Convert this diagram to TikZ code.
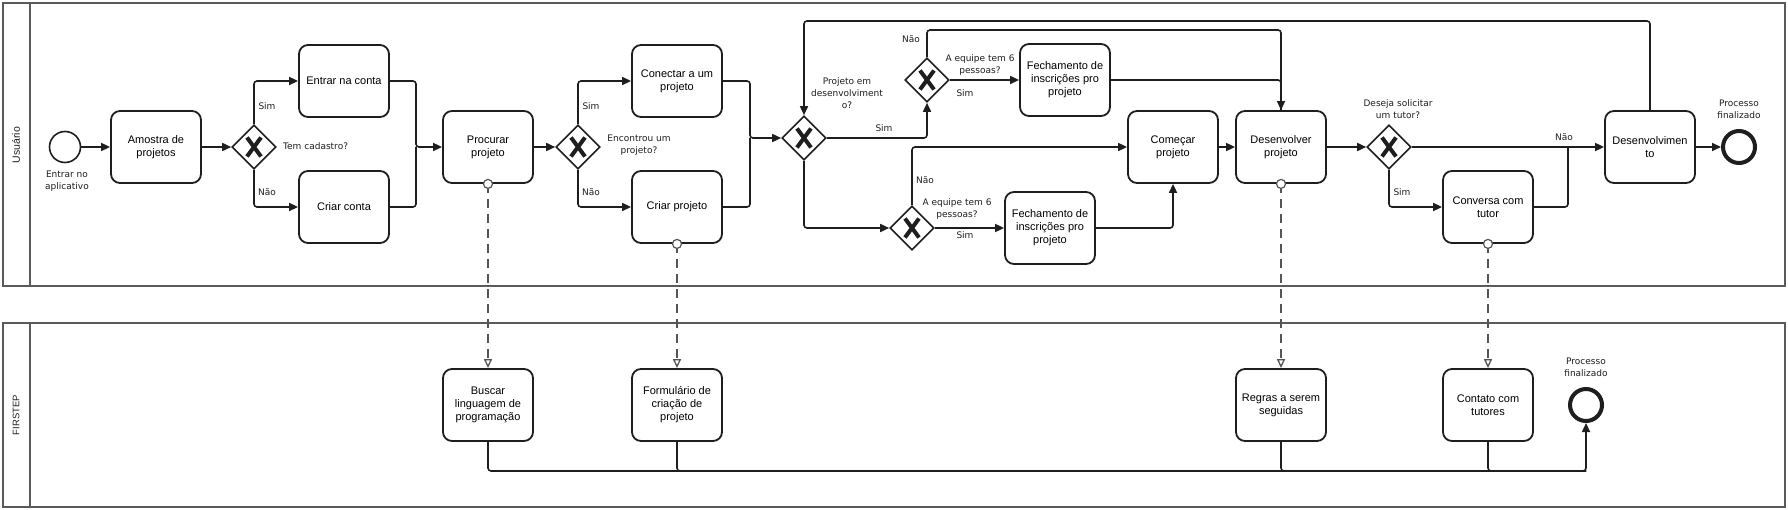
\documentclass[tikz,border=0pt]{standalone}
\usepackage{fontspec}
\setmainfont{Liberation Sans}
\newfontfamily\lblfont{DejaVu Sans}
\usetikzlibrary{arrows.meta,shapes.geometric,calc}
\definecolor{ink}{HTML}{1E1E1E}
\definecolor{poolc}{HTML}{5A5A5A}
\definecolor{msgc}{HTML}{555555}
\begin{document}
\begin{tikzpicture}[x=1pt,y=-1pt,
 task/.style={draw=ink, line width=1.8pt, rounded corners=9pt, minimum width=90pt, minimum height=72pt, align=center, font=\fontsize{11}{13}\selectfont, inner sep=1pt, fill=white},
 gw/.style={diamond, draw=ink, line width=1.6pt, minimum size=44pt, inner sep=0pt, fill=white,
   path picture={\draw[ink, line width=4pt] ($(path picture bounding box.center)+(-7,-9.5)$) -- ($(path picture bounding box.center)+(7,9.5)$) ($(path picture bounding box.center)+(-7,9.5)$) -- ($(path picture bounding box.center)+(7,-9.5)$);}},
 startev/.style={circle, draw=ink, line width=1.6pt, minimum size=31pt, inner sep=0pt, fill=white},
 endev/.style={circle, draw=ink, line width=4pt, minimum size=32pt, inner sep=0pt, fill=white},
 lbl/.style={font=\lblfont\fontsize{9}{11.8}\selectfont, inner sep=0pt, align=center, text=ink},
 lane/.style={rotate=90, font=\fontsize{10.5}{12}\selectfont, text=ink, inner sep=0pt},
 flow/.style={draw=ink, line width=1.6pt, rounded corners=3pt, -{Triangle[length=9pt,width=8pt]}},
 plain/.style={draw=ink, line width=1.6pt, rounded corners=3pt},
 msg/.style={draw=msgc, line width=1.3pt, dash pattern=on 9pt off 6pt, -{Triangle[open, length=9pt, width=8pt]}},
 mdot/.style={circle, draw=msgc, line width=1.2pt, fill=white, minimum size=9pt, inner sep=0pt},
 pool/.style={draw=poolc, line width=1.8pt}
]
\useasboundingbox (0,0) rectangle (1788,510);
% pools
\draw[pool] (3,3) rectangle (1785,286);
\draw[pool] (30,3) -- (30,286);
\draw[pool] (3,323) rectangle (1785,507);
\draw[pool] (30,323) -- (30,507);
\node[lane] (lane1) at (16,145) {Usuário};
\node[lane, font=\fontsize{9.5}{11}\selectfont] (lane2) at (16,415) {FIRSTEP};

% upper lane nodes
\node[startev] (start) at (65,147) {};
\node[task] (amostra) at (156,147) {Amostra de\\projetos};
\node[gw] (g1) at (254,147) {};
\node[task] (entrar) at (344,81) {Entrar na conta};
\node[task] (criarc) at (344,207) {Criar conta};
\node[task] (procurar) at (488,147) {Procurar\\projeto};
\node[gw] (g2) at (578,147) {};
\node[task] (conectar) at (677,81) {Conectar a um\\projeto};
\node[task] (criarp) at (677,207) {Criar projeto};
\node[gw] (g3) at (804,138) {};
\node[gw] (g4) at (927,80) {};
\node[task] (fech1) at (1065,80) {Fechamento de\\inscrições pro\\projeto};
\node[gw] (g5) at (912,228) {};
\node[task] (fech2) at (1050,228) {Fechamento de\\inscrições pro\\projeto};
\node[task] (comecar) at (1173,147) {Começar\\projeto};
\node[task] (desenv) at (1281,147) {Desenvolver\\projeto};
\node[gw] (g6) at (1389,147) {};
\node[task] (conversa) at (1488,207) {Conversa com\\tutor};
\node[task] (desvto) at (1650,147) {Desenvolvimen\\to};
\node[endev] (end1) at (1739,147) {};

% lower lane nodes
\node[task] (buscar) at (488,405) {Buscar\\linguagem de\\programação};
\node[task] (form) at (677,405) {Formulário de\\criação de\\projeto};
\node[task] (regras) at (1281,405) {Regras a serem\\seguidas};
\node[task] (contato) at (1488,405) {Contato com\\tutores};
\node[endev] (end2) at (1586,405) {};

% labels
\node[lbl] (t0) at (67,181) {Entrar no\\aplicativo};
\node[lbl, anchor=west] (t1) at (283,146) {Tem cadastro?};
\node[lbl] (t1s) at (267,106) {Sim};
\node[lbl] (t1n) at (267,192) {Não};
\node[lbl] (t2) at (639,145) {Encontrou um\\projeto?};
\node[lbl] (t2s) at (591,106) {Sim};
\node[lbl] (t2n) at (591,192) {Não};
\node[lbl] (t3) at (847,93) {Projeto em\\desenvolviment\\o?};
\node[lbl] (t3s) at (884,128) {Sim};
\node[lbl] (t4n) at (911,39) {Não};
\node[lbl] (t4) at (980,65) {A equipe tem 6\\pessoas?};
\node[lbl] (t4s) at (965,93) {Sim};
\node[lbl] (t5n) at (925,180) {Não};
\node[lbl] (t5) at (957,209) {A equipe tem 6\\pessoas?};
\node[lbl] (t5s) at (965,235) {Sim};
\node[lbl] (t6) at (1398,109) {Deseja solicitar\\um tutor?};
\node[lbl] (t6n) at (1564,137) {Não};
\node[lbl] (t6s) at (1402,192) {Sim};
\node[lbl] (te1) at (1739,109) {Processo\\finalizado};
\node[lbl] (te2) at (1586,367) {Processo\\finalizado};

% coordinates
\coordinate (m1) at (416,147);
\coordinate (m2) at (750,138);
\coordinate (top1) at (804,21);
\coordinate (top2) at (1281,30);
\coordinate (m6) at (1568,147);
\coordinate (bot) at (1586,471);

% sequence flows
\draw[flow] (start) -- (amostra);
\draw[flow] (amostra) -- (g1);
\draw[flow] (g1.north) |- (entrar.west);
\draw[flow] (g1.south) |- (criarc.west);
\draw[plain] (criarc.east) -| (m1);
\draw[flow] (entrar.east) -| (m1) -- (procurar.west);
\draw[flow] (procurar) -- (g2);
\draw[flow] (g2.north) |- (conectar.west);
\draw[flow] (g2.south) |- (criarp.west);
\draw[plain] (criarp.east) -| (m2);
\draw[flow] (conectar.east) -| (m2) -- (g3.west);
\draw[flow] (g3.east) -| (g4.south);
\draw[flow] (g3.south) |- (g5.west);
\draw[flow] (g4.east) -- (fech1.west);
\draw[plain] (fech1.east) -| (desenv.north);
\draw[flow] (g4.north) |- (top2) -- (desenv.north);
\draw[flow] (g5.north) |- (comecar.west);
\draw[flow] (g5.east) -- (fech2.west);
\draw[flow] (fech2.east) -| (comecar.south);
\draw[flow] (comecar) -- (desenv);
\draw[flow] (desenv) -- (g6);
\draw[flow] (g6.east) -- (desvto.west);
\draw[flow] (g6.south) |- (conversa.west);
\draw[plain] (conversa.east) -| (m6);
\draw[flow] (desvto) -- (end1);
\draw[flow] (desvto.north) |- (top1) -- (g3.north);

% lower lane flows
\draw[plain] (form.south) |- (bot);
\draw[plain] (regras.south) |- (bot);
\draw[plain] (contato.south) |- (bot);
\draw[flow] (buscar.south) |- (bot) -- (end2.south);

% message flows
\draw[msg] (procurar.south) -- (buscar.north);
\draw[msg] (criarp.south) -- (form.north);
\draw[msg] (desenv.south) -- (regras.north);
\draw[msg] (conversa.south) -- (contato.north);
\node[mdot] (d1) at (procurar.south) {};
\node[mdot] (d2) at (criarp.south) {};
\node[mdot] (d3) at (desenv.south) {};
\node[mdot] (d4) at (conversa.south) {};
\end{tikzpicture}
\end{document}
